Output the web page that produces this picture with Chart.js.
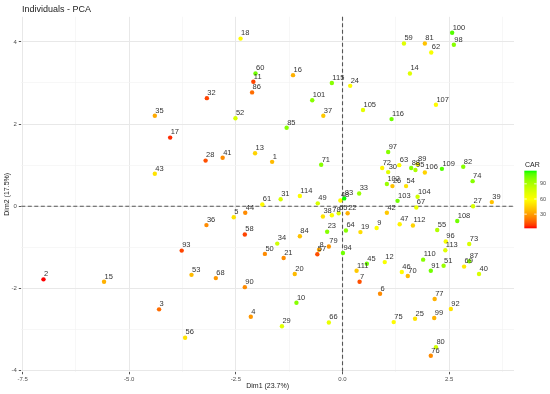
<!DOCTYPE html>
<html>
<head>
<meta charset="utf-8">
<script src="https://cdn.jsdelivr.net/npm/chart.js@4.4.1/dist/chart.umd.min.js"></script>
<style>
  html, body { margin: 0; padding: 0; background: #fff; }
</style>
</head>
<body>
<canvas id="pca" width="550" height="394"></canvas>
<script>
// individuals 1..116, coordinates
const ids = Array.from({ length: 116 }, (_, i) => String(i + 1));
const dim1 = [
  -1.65, -7.01, -4.30, -2.15, -2.55, 0.88, 0.40, -0.55, 0.80, -1.08,
  -2.09, 0.99, -2.05, 1.58, -5.59, -1.16, -4.04, -2.39, 0.42, -1.12,
  -1.38, 0.12, -0.36, 0.18, 1.70, 1.17, 3.06, -3.21, -1.42, 1.07,
  -1.45, -3.18, 0.39, -1.53, -4.40, -3.19, -0.45, -0.46, 3.50, 3.20,
  -2.81, 1.04, -4.40, -2.28, 0.57, 1.39, 1.34, -0.05, -0.58, -1.82,
  2.37, -2.51, -3.54, 1.49, 2.22, -3.69, -0.59, -2.29, 1.44, -2.04,
  -1.88, 2.08, 1.33, 0.08, -0.09, -0.32, 1.73, -2.97, 2.85, 1.53,
  -0.50, 0.93, 2.97, 3.05, 1.20, 2.07, 2.16, -0.25, -0.32, 2.19,
  1.93, 2.83, 0.04, -1.00, -1.31, -2.12, 2.97, 1.61, 1.76, -2.29,
  2.07, 2.54, -3.77, 0.01, 1.71, 2.42, 1.07, 2.61, 2.15, 2.57,
  -0.71, 1.04, 1.29, 1.76, 0.48, 1.93, 2.19, 2.69, 2.33, 1.89,
  0.33, 1.65, 2.41, -1.00, -0.25, 1.15
];
const dim2 = [
  1.08, -1.78, -2.51, -2.69, -0.27, -2.13, -1.84, -1.06, -0.53, -2.35,
  3.03, -1.36, 1.29, 3.23, -1.84, 3.19, 1.67, 4.08, -0.63, -1.65,
  -1.26, -0.17, -0.62, 2.93, -2.74, 0.49, 0.00, 1.11, -2.92, 0.83,
  0.17, 2.63, 0.31, -0.91, 2.20, -0.46, 2.20, -0.25, 0.10, -1.65,
  1.18, -0.16, 0.79, -0.16, -1.40, -1.60, -0.44, 0.14, 0.07, -1.16,
  -1.45, 2.14, -1.67, 0.49, -0.58, -3.20, -1.17, -0.69, 3.96, 3.23,
  0.04, 3.74, 1.00, -0.59, -0.17, -2.83, -0.03, -1.75, -1.47, -1.70,
  1.01, 0.93, -0.92, 0.61, -2.82, -3.64, -2.26, -0.22, -0.98, -3.43,
  3.96, 0.96, 0.19, -0.73, 1.91, 2.77, -1.34, 0.93, 1.02, -1.97,
  -1.57, -2.50, -1.08, -1.14, 0.88, -0.86, 1.32, 3.93, -2.72, 4.22,
  2.58, 0.54, 0.13, 0.23, 2.34, 0.82, 2.47, -0.36, 0.91, -1.30,
  -1.57, -0.47, -1.07, 0.25, 3.00, 2.12
];
const car = [
  38, 2, 18, 28, 50, 25, 12, 32, 60, 100,
  10, 62, 45, 72, 35, 35, 6, 58, 48, 38,
  25, 35, 100, 58, 50, 40, 75, 12, 72, 72,
  75, 10, 95, 78, 33, 25, 42, 50, 40, 75,
  25, 42, 50, 25, 105, 58, 55, 58, 75, 25,
  95, 75, 38, 50, 88, 50, 12, 10, 72, 105,
  58, 62, 60, 100, 72, 68, 68, 28, 52, 38,
  100, 55, 75, 100, 58, 25, 35, 60, 28, 78,
  40, 100, 116, 40, 100, 18, 100, 100, 58, 25,
  105, 50, 10, 105, 90, 62, 100, 100, 35, 110,
  100, 95, 105, 78, 70, 45, 58, 105, 110, 100,
  42, 45, 72, 58, 100, 105
];
const xTicks = [-7.5, -6.25, -5, -3.75, -2.5, -1.25, 0, 1.25, 2.5, 3.75];
const yTicks = [-4, -3, -2, -1, 0, 1, 2, 3, 4];
const carBreaks = [30, 60, 90];

const carLo = Math.min(...car), carHi = Math.max(...car);
const FONT = '"Liberation Sans", Arial, sans-serif';

// red -> yellow -> green, roughly like ggplot's Lab interpolation
function carColor(v) {
  const t = (v - carLo) / (carHi - carLo);
  if (t < 0.5) {
    const u = t / 0.5;
    return `rgb(255,${Math.round(255 * Math.pow(u, 0.67))},0)`;
  }
  const s = (t - 0.5) / 0.5;
  return `rgb(${Math.round(255 * Math.pow(1 - s, 0.5))},255,0)`;
}

const isMajorX = v => Math.abs(v % 2.5) < 1e-9;
const isMajorY = v => Math.abs(v % 2) < 1e-9;

const extras = {
  id: 'extras',
  beforeDatasetsDraw(chart) {
    const { ctx, chartArea: a, scales: { x, y } } = chart;
    const x0 = x.getPixelForValue(0), y0 = y.getPixelForValue(0);
    ctx.save();
    ctx.strokeStyle = '#555';
    ctx.lineWidth = 1.1;
    ctx.setLineDash([4, 2.5]);
    ctx.beginPath();
    ctx.moveTo(a.left, y0); ctx.lineTo(a.right, y0);
    ctx.moveTo(x0, a.top); ctx.lineTo(x0, a.bottom);
    ctx.stroke();
    ctx.restore();
  },
  afterDatasetsDraw(chart) {
    const { ctx } = chart;
    const meta = chart.getDatasetMeta(0);
    ctx.save();
    // point labels
    ctx.font = `7.5px ${FONT}`;
    ctx.fillStyle = '#333';
    ctx.textAlign = 'left';
    ctx.textBaseline = 'alphabetic';
    meta.data.forEach((pt, i) => ctx.fillText(ids[i], pt.x + 0.5, pt.y - 3.2));

    // title
    ctx.font = `9px ${FONT}`;
    ctx.fillStyle = '#222';
    ctx.fillText('Individuals - PCA', 22, 11.7);

    // colour bar legend
    const bx = 524.3, bw = 12.4, top = 170.7, bot = 228.3;
    const grad = ctx.createLinearGradient(0, bot, 0, top);
    for (let k = 0; k <= 20; k++) grad.addColorStop(k / 20, carColor(carLo + (carHi - carLo) * k / 20));
    ctx.fillStyle = grad;
    ctx.fillRect(bx, top, bw, bot - top);
    ctx.font = `7px ${FONT}`;
    ctx.fillStyle = '#222';
    ctx.fillText('CAR', 525, 166.7);
    ctx.font = `5.5px ${FONT}`;
    ctx.fillStyle = '#4d4d4d';
    ctx.textBaseline = 'middle';
    ctx.strokeStyle = '#fff';
    ctx.lineWidth = 0.8;
    carBreaks.forEach(b => {
      const py = bot - (b - carLo) / (carHi - carLo) * (bot - top);
      ctx.beginPath();
      ctx.moveTo(bx, py); ctx.lineTo(bx + 2.5, py);
      ctx.moveTo(bx + bw - 2.5, py); ctx.lineTo(bx + bw, py);
      ctx.stroke();
      ctx.fillText(String(b), 540, py);
    });
    ctx.restore();
  }
};

new Chart(document.getElementById('pca').getContext('2d'), {
  type: 'scatter',
  data: {
    datasets: [{
      data: ids.map((_, i) => ({ x: dim1[i], y: dim2[i] })),
      pointBackgroundColor: car.map(carColor),
      pointBorderWidth: 0,
      pointRadius: 2.2
    }]
  },
  options: {
    responsive: false,
    animation: false,
    layout: { padding: { left: 0, right: 36, top: 16.8, bottom: 0 } },
    plugins: { legend: { display: false }, tooltip: { enabled: false } },
    scales: {
      x: {
        type: 'linear', min: -7.53, max: 4.02,
        afterBuildTicks: s => { s.ticks = xTicks.map(v => ({ value: v })); },
        afterFit: s => { s.height = 22.2; },
        ticks: {
          autoSkip: false, maxRotation: 0, padding: 1,
          font: { size: 6, family: FONT }, color: '#4d4d4d',
          callback: v => (isMajorX(v) ? v.toFixed(1) : '')
        },
        grid: {
          color: c => (isMajorX(c.tick.value) ? '#e8e8e8' : '#f3f3f3'),
          lineWidth: c => (isMajorX(c.tick.value) ? 1 : 0.7),
          tickColor: c => (isMajorX(c.tick.value) ? '#555' : 'rgba(0,0,0,0)'),
          tickLength: 2.5
        },
        border: { display: false },
        title: { display: true, text: 'Dim1 (23.7%)', color: '#222', font: { size: 7, family: FONT }, padding: { top: 0, bottom: 4 } }
      },
      y: {
        type: 'linear', min: -4.03, max: 4.61,
        afterBuildTicks: s => { s.ticks = yTicks.map(v => ({ value: v })); },
        afterFit: s => { s.width = 21.3; },
        ticks: {
          autoSkip: false, padding: 2,
          font: { size: 6, family: FONT }, color: '#4d4d4d',
          callback: v => (isMajorY(v) ? String(v) : '')
        },
        grid: {
          color: c => (isMajorY(c.tick.value) ? '#e8e8e8' : '#f3f3f3'),
          lineWidth: c => (isMajorY(c.tick.value) ? 1 : 0.7),
          tickColor: c => (isMajorY(c.tick.value) ? '#555' : 'rgba(0,0,0,0)'),
          tickLength: 2.5
        },
        border: { display: false },
        title: { display: true, text: 'Dim2 (17.5%)', color: '#222', font: { size: 7, family: FONT }, padding: { top: 2.5, bottom: 0 } }
      }
    }
  },
  plugins: [extras]
});
</script>
</body>
</html>
